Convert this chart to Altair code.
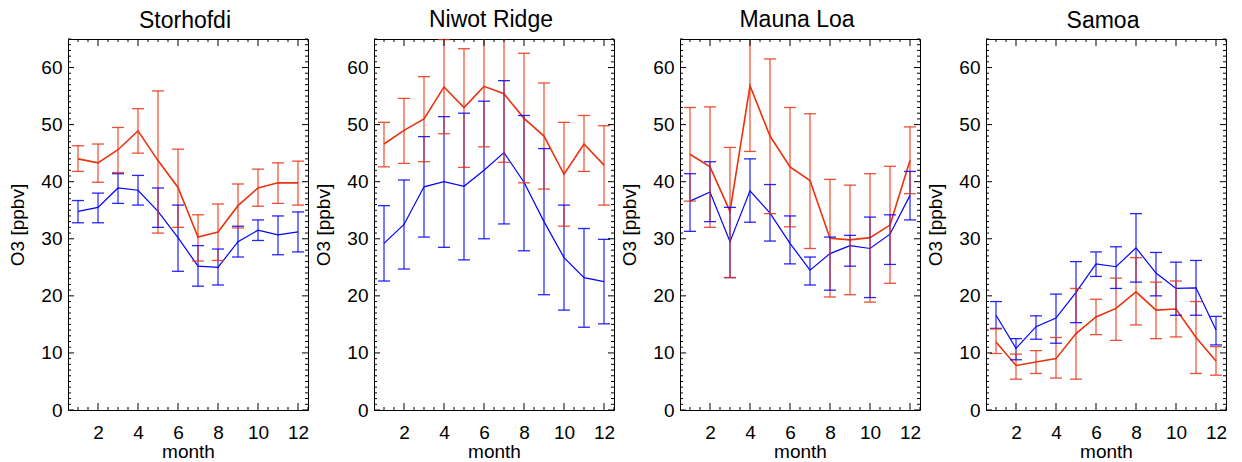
import altair as alt
import pandas as pd

months = [1, 2, 3, 4, 5, 6, 7, 8, 9, 10, 11, 12]
stations = ["Storhofdi", "Niwot Ridge", "Mauna Loa", "Samoa"]

storhofdi_red = [44.0, 43.3, 45.6, 48.9, 43.7, 39.0, 30.3, 31.2, 35.8, 38.9, 39.8, 39.8]
storhofdi_red_hi = [46.3, 46.6, 49.5, 52.8, 55.9, 45.7, 34.2, 36.1, 39.6, 42.2, 43.3, 43.6]
storhofdi_red_lo = [41.8, 39.9, 41.6, 45.0, 31.0, 32.0, 26.1, 26.2, 31.9, 35.7, 36.2, 35.9]
storhofdi_blue = [34.8, 35.5, 38.9, 38.5, 34.8, 30.2, 25.2, 25.0, 29.5, 31.5, 30.7, 31.2]
storhofdi_blue_hi = [36.7, 38.0, 41.4, 41.1, 38.9, 35.9, 28.8, 28.2, 32.2, 33.3, 34.0, 34.7]
storhofdi_blue_lo = [32.8, 32.8, 36.2, 35.9, 32.0, 24.3, 21.7, 21.9, 26.8, 29.7, 27.2, 27.7]

niwot_red = [46.6, 49.0, 51.0, 56.6, 53.0, 56.7, 55.4, 51.1, 48.0, 41.3, 46.6, 42.9]
niwot_red_hi = [50.4, 54.6, 58.4, 64.9, 63.3, 67.3, 67.4, 62.5, 57.3, 50.4, 51.6, 49.8]
niwot_red_lo = [42.6, 43.2, 43.5, 48.4, 42.5, 46.1, 43.4, 39.8, 38.7, 32.2, 41.8, 35.9]
niwot_blue = [29.2, 32.5, 39.1, 40.0, 39.2, 42.0, 45.1, 39.9, 33.0, 26.7, 23.2, 22.5]
niwot_blue_hi = [35.8, 40.3, 47.9, 51.4, 52.0, 54.1, 57.7, 51.6, 45.8, 35.9, 31.8, 29.9]
niwot_blue_lo = [22.6, 24.7, 30.3, 28.5, 26.3, 30.0, 32.6, 27.9, 20.2, 17.5, 14.5, 15.1]

maunaloa_red = [44.8, 42.6, 34.8, 56.8, 48.0, 42.6, 40.2, 30.1, 29.8, 30.2, 32.4, 43.7]
maunaloa_red_hi = [53.0, 53.1, 46.0, 68.0, 61.5, 53.0, 51.9, 40.4, 39.4, 41.4, 42.7, 49.6]
maunaloa_red_lo = [36.6, 32.0, 23.2, 45.3, 34.4, 32.1, 28.3, 19.8, 20.2, 18.9, 22.2, 37.9]
maunaloa_blue = [36.6, 38.2, 29.5, 38.4, 34.5, 29.2, 24.5, 27.4, 28.8, 28.3, 30.8, 37.6]
maunaloa_blue_hi = [41.4, 43.5, 35.5, 44.0, 39.5, 34.0, 26.8, 30.3, 30.6, 33.8, 34.2, 41.8]
maunaloa_blue_lo = [31.3, 33.0, 23.2, 32.9, 29.6, 25.6, 21.9, 21.0, 25.2, 19.7, 25.5, 33.3]

samoa_red = [11.9, 7.8, 8.4, 9.0, 13.4, 16.3, 17.8, 20.7, 17.5, 17.7, 12.7, 8.6]
samoa_red_hi = [14.2, 9.8, 10.4, 12.7, 21.3, 19.4, 23.1, 26.7, 22.4, 22.6, 19.0, 11.1]
samoa_red_lo = [9.9, 5.4, 6.4, 5.6, 5.4, 13.2, 12.2, 14.9, 12.5, 12.8, 6.4, 6.1]
samoa_blue = [16.6, 10.8, 14.6, 16.1, 20.6, 25.6, 25.1, 28.4, 24.0, 21.3, 21.4, 14.0]
samoa_blue_hi = [19.0, 12.5, 16.5, 20.3, 26.0, 27.7, 28.6, 34.4, 27.6, 25.9, 26.2, 16.4]
samoa_blue_lo = [14.3, 8.8, 12.4, 11.7, 15.3, 23.4, 21.3, 22.4, 20.0, 16.6, 16.6, 11.4]

x_major = [2, 4, 6, 8, 10, 12]
x_minor = [1, 1.5, 2.5, 3, 3.5, 4.5, 5, 5.5, 6.5, 7, 7.5, 8.5,
           9, 9.5, 10.5, 11, 11.5, 12.5]
y_major = [0, 10, 20, 30, 40, 50, 60]
y_minor = [v for v in range(1, 66) if v % 10 != 0]

series_data = {
    "Storhofdi": {
        "blue": (storhofdi_blue, storhofdi_blue_lo, storhofdi_blue_hi),
        "red": (storhofdi_red, storhofdi_red_lo, storhofdi_red_hi),
    },
    "Niwot Ridge": {
        "blue": (niwot_blue, niwot_blue_lo, niwot_blue_hi),
        "red": (niwot_red, niwot_red_lo, niwot_red_hi),
    },
    "Mauna Loa": {
        "blue": (maunaloa_blue, maunaloa_blue_lo, maunaloa_blue_hi),
        "red": (maunaloa_red, maunaloa_red_lo, maunaloa_red_hi),
    },
    "Samoa": {
        "blue": (samoa_blue, samoa_blue_lo, samoa_blue_hi),
        "red": (samoa_red, samoa_red_lo, samoa_red_hi),
    },
}

rows = []
for st in stations:
    for s, (vals, los, his) in series_data[st].items():
        for m, v, lo, hi in zip(months, vals, los, his):
            rows.append({"station": st, "series": s, "month": m,
                         "value": v, "lo": lo, "hi": hi})
df = pd.DataFrame(rows)

RED = "#e8330f"
BLUE = "#0000ff"
FONT = "Liberation Sans"
W, H = 240, 371

xs = alt.Scale(domain=[0.5, 12.5], nice=False, zero=False)
ys = alt.Scale(domain=[0, 65], nice=False, zero=False, clamp=True)
color = alt.Color("series:N", scale=alt.Scale(domain=["blue", "red"], range=[BLUE, RED]), legend=None)

x_axis = alt.Axis(orient="bottom", values=x_major, format="d",
                  ticks=False, tickSize=0, domain=False, grid=False,
                  labelPadding=13, labelFlush=False, title="month",
                  titlePadding=0, minExtent=0)
y_axis = alt.Axis(orient="left", values=y_major, format="d",
                  ticks=False, tickSize=0, domain=False, grid=False,
                  labelPadding=6, labelFlush=False, title="O3 [ppbv]",
                  titlePadding=13, minExtent=0)


def x_ticks(values, y0, y1):
    return alt.Chart(pd.DataFrame({"xv": values})).mark_rule(
        color="black", strokeWidth=1
    ).encode(x=alt.X("xv:Q", scale=xs, axis=x_axis), y=alt.value(y0), y2=alt.value(y1))


def y_ticks(values, x0, x1):
    return alt.Chart(pd.DataFrame({"yv": values})).mark_rule(
        color="black", strokeWidth=1
    ).encode(y=alt.Y("yv:Q", scale=ys, axis=y_axis), x=alt.value(x0), x2=alt.value(x1))


def panel(st):
    d = df[df.station == st]
    base = alt.Chart(d)

    lines = base.mark_line().encode(
        x=alt.X("month:Q", scale=xs, axis=x_axis),
        y=alt.Y("value:Q", scale=ys, axis=y_axis),
        color=color,
        strokeWidth=alt.StrokeWidth("series:N", scale=alt.Scale(domain=["blue", "red"], range=[1.2, 1.6]), legend=None),
    )

    bars = base.mark_rule(opacity=0.8, strokeWidth=1.3).encode(
        x=alt.X("month:Q", scale=xs, axis=x_axis),
        y=alt.Y("lo:Q", scale=ys, axis=y_axis),
        y2="hi:Q",
        color=color,
    )

    caps = base.transform_fold(["lo", "hi"], as_=["end", "yv"]).transform_filter(
        "datum.yv <= 65"
    ).mark_tick(
        orient="horizontal", size=12, thickness=1.3, opacity=0.85
    ).encode(
        x=alt.X("month:Q", scale=xs, axis=x_axis),
        y=alt.Y("yv:Q", scale=ys, axis=y_axis),
        color=color,
    )

    ticks = [
        x_ticks(x_major, H, H - 7), x_ticks(x_minor, H, H - 3),
        x_ticks(x_major, 0, 7), x_ticks(x_minor, 0, 3),
        y_ticks(y_major, 0, 6), y_ticks(y_minor, 0, 3),
        y_ticks(y_major, W, W - 6), y_ticks(y_minor, W, W - 3),
    ]

    return alt.layer(lines, bars, caps, *ticks).properties(
        width=W, height=H,
        title=alt.TitleParams(text=st, fontSize=23, font=FONT, fontWeight="normal",
                              baseline="alphabetic", offset=-12, anchor="middle",
                              frame="group", dx=-3, color="black"),
    )


chart = alt.hconcat(*[panel(s) for s in stations], spacing=4).properties(
    padding=0
).configure(
    background="white"
).configure_view(
    stroke="black", strokeWidth=1
).configure_axis(
    labelFont=FONT, labelFontSize=19, labelColor="black",
    titleFont=FONT, titleFontSize=19, titleFontWeight="normal", titleColor="black",
)

chart.save("out.html", embed_options={"renderer": "svg", "actions": False})
